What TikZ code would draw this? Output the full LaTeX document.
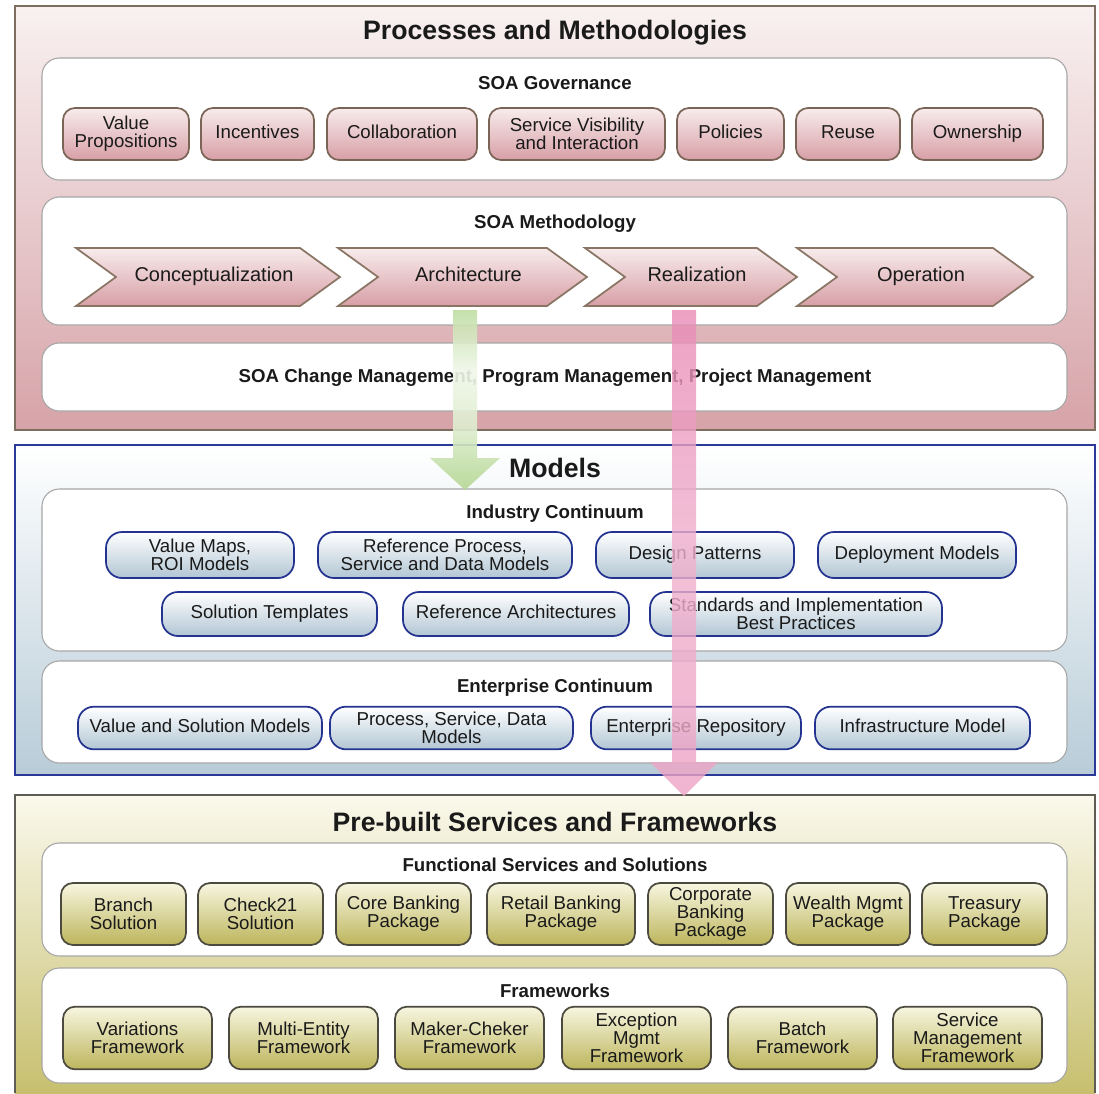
\documentclass[tikz,border=0pt]{standalone}
\usepackage{fontspec}
\setmainfont{Liberation Sans}
\begin{document}
\definecolor{ink}{HTML}{1A1A1A}
% outer panels
\definecolor{procTop}{HTML}{F9F1F1}
\definecolor{procBot}{HTML}{D6A3A8}
\definecolor{procEdge}{HTML}{7E6E60}
\definecolor{modTop}{HTML}{FFFFFF}
\definecolor{modBot}{HTML}{B8CCD8}
\definecolor{modEdge}{HTML}{2B3A98}
\definecolor{preTop}{HTML}{FAF9EC}
\definecolor{preBot}{HTML}{C7BF6E}
\definecolor{preEdge}{HTML}{5E5C54}
% boxes
\definecolor{pinkTop}{HTML}{F8ECEC}
\definecolor{pinkBot}{HTML}{D79FA6}
\definecolor{pinkEdge}{HTML}{7A6455}
\definecolor{blueTop}{HTML}{FFFFFF}
\definecolor{blueBot}{HTML}{B2C6D4}
\definecolor{blueEdge}{HTML}{23338F}
\definecolor{oliveTop}{HTML}{F7F6E0}
\definecolor{oliveBot}{HTML}{BDB55C}
\definecolor{oliveEdge}{HTML}{4C4A3E}
\definecolor{chevEdge}{HTML}{8A7565}
% arrows
\definecolor{arrGreen}{HTML}{9ECB72}
\definecolor{arrPink}{HTML}{DE5292}

\pgfdeclareverticalshading{greenfade}{100bp}{%
  color(0bp)=(arrGreen!90!white); color(20bp)=(arrGreen!90!white);
  color(42bp)=(arrGreen!35!white); color(58bp)=(arrGreen!15!white);
  color(82bp)=(arrGreen!85!white); color(100bp)=(arrGreen)}
\pgfdeclareverticalshading{pinkfade}{100bp}{%
  color(0bp)=(arrPink); color(8bp)=(arrPink!90!white);
  color(20bp)=(arrPink!55!white); color(50bp)=(arrPink!45!white);
  color(78bp)=(arrPink!70!white); color(100bp)=(arrPink)}

\newcommand\mybox[6]{%
  \node[#1, minimum width={(#4-#3)*0.75pt}] (#2) at ({(#3+#4)/2},#5) {#6};}
\newcommand\chevron[4]{%
  \shade[chevfill] (#2,248) -- ({#3-40},248) -- (#3,277) -- ({#3-40},306)
    -- (#2,306) -- ({#2+40},277) -- cycle;
  \node[chevtext] (#1) at ({(#2+#3)/2+6},277) {#4};}

\begin{tikzpicture}[x=0.75pt,y=-0.75pt,
  every node/.style={text=ink},
  bigtitle/.style={font=\fontsize{20}{22}\selectfont\bfseries},
  subtitle/.style={font=\fontsize{14}{16}\selectfont\bfseries},
  boxtext/.style={font=\fontsize{14}{13.4}\selectfont, align=center, inner sep=0pt},
  oneline/.style={text height=0.9em, text depth=0.2em},
  innerpanel/.style={fill=white, draw=black!35, line width=0.8pt, rounded corners=13pt},
  pinkbox/.style={boxtext, draw=pinkEdge, line width=1.3pt, rounded corners=9pt,
    top color=pinkTop, bottom color=pinkBot, minimum height=39pt},
  bluebox/.style={boxtext, draw=blueEdge, line width=1.3pt, rounded corners=12pt,
    top color=blueTop, bottom color=blueBot},
  olivebox/.style={boxtext, draw=oliveEdge, line width=1.3pt, rounded corners=9pt,
    top color=oliveTop, bottom color=oliveBot},
  chevfill/.style={draw=chevEdge, line width=1.3pt, top color=pinkTop, bottom color=pinkBot},
  chevtext/.style={font=\fontsize{15}{16}\selectfont, inner sep=0pt, text height=0.9em, text depth=0.2em},
]
\useasboundingbox (0,0) rectangle (1099,1093);
\fill[white] (0,0) rectangle (1099,1093);

% ---------- Processes and Methodologies ----------
\shade[top color=procTop, bottom color=procBot] (15,6) rectangle (1095,430);
\draw[procEdge, line width=1.6pt] (15,6) rectangle (1095,430);
\node[bigtitle] (proc) at (555,33) {Processes and Methodologies};

\draw[innerpanel] (42,58) rectangle (1067,180);
\node[subtitle] (gov) at (555,83) {SOA Governance};
\mybox{pinkbox}{vp}{63}{189}{134}{Value\\Propositions}
\mybox{pinkbox, oneline}{inc}{201}{314}{134}{Incentives}
\mybox{pinkbox, oneline}{col}{327}{477}{134}{Collaboration}
\mybox{pinkbox}{svi}{489}{665}{134}{Service Visibility\\and Interaction}
\mybox{pinkbox, oneline}{pol}{677}{784}{134}{Policies}
\mybox{pinkbox, oneline}{reu}{796}{900}{134}{Reuse}
\mybox{pinkbox, oneline}{own}{912}{1043}{134}{Ownership}

\draw[innerpanel] (42,197) rectangle (1067,325);
\node[subtitle] (meth) at (555,224) {SOA Methodology};
\chevron{concept}{76}{340}{Conceptualization}
\chevron{arch}{338}{587}{Architecture}
\chevron{real}{585}{797}{Realization}
\chevron{oper}{797}{1033}{Operation}

\draw[innerpanel] (42,343) rectangle (1067,411);
\node[subtitle] (chg) at (555,378) {SOA Change Management, Program Management, Project Management};

% ---------- Models ----------
\shade[top color=modTop, bottom color=modBot] (15,445) rectangle (1095,775);
\draw[modEdge, line width=1.6pt] (15,445) rectangle (1095,775);
\node[bigtitle] (models) at (555,468) {Models};

\draw[innerpanel] (42,489) rectangle (1067,651);
\node[subtitle] (ind) at (555,514) {Industry Continuum};
\mybox{bluebox, minimum height=34.5pt}{vm}{106}{294}{555}{Value Maps,\\ROI Models}
\mybox{bluebox, minimum height=34.5pt}{rp}{318}{572}{555}{Reference Process,\\Service and Data Models}
\mybox{bluebox, oneline, minimum height=34.5pt}{dp}{596}{794}{555}{Design Patterns}
\mybox{bluebox, oneline, minimum height=34.5pt}{dm}{818}{1016}{555}{Deployment Models}
\mybox{bluebox, oneline, minimum height=33pt}{st}{162}{377}{614}{Solution Templates}
\mybox{bluebox, oneline, minimum height=33pt}{ra}{403}{629}{614}{Reference Architectures}
\mybox{bluebox, minimum height=33pt}{sib}{650}{942}{614}{Standards and Implementation\\Best Practices}

\draw[innerpanel] (42,661) rectangle (1067,763);
\node[subtitle] (ent) at (555,688) {Enterprise Continuum};
\mybox{bluebox, oneline, minimum height=32pt}{vsm}{78}{322}{728}{Value and Solution Models}
\mybox{bluebox, minimum height=32pt}{psd}{330}{573}{728}{Process, Service, Data\\Models}
\mybox{bluebox, oneline, minimum height=32pt}{er}{591}{801}{728}{Enterprise Repository}
\mybox{bluebox, oneline, minimum height=32pt}{im}{815}{1030}{728}{Infrastructure Model}

% ---------- Pre-built Services and Frameworks ----------
\shade[top color=preTop, bottom color=preBot] (15,795) rectangle (1095,1093);
\draw[preEdge, line width=1.6pt] (15,1093) -- (15,795) -- (1095,795) -- (1095,1093);
\node[bigtitle] (pre) at (555,822) {Pre-built Services and Frameworks};

\draw[innerpanel] (42,843) rectangle (1067,956);
\node[subtitle] (fun) at (555,865) {Functional Services and Solutions};
\mybox{olivebox, minimum height=46.5pt}{bs}{61}{186}{914}{Branch\\Solution}
\mybox{olivebox, minimum height=46.5pt}{c21}{198}{323}{914}{Check21\\Solution}
\mybox{olivebox, minimum height=46.5pt}{cbp}{336}{471}{914}{Core Banking\\Package}
\mybox{olivebox, minimum height=46.5pt}{rbp}{487}{635}{914}{Retail Banking\\Package}
\mybox{olivebox, minimum height=46.5pt}{cobp}{648}{773}{914}{Corporate\\Banking\\Package}
\mybox{olivebox, minimum height=46.5pt}{wmp}{786}{910}{914}{Wealth Mgmt\\Package}
\mybox{olivebox, minimum height=46.5pt}{tp}{922}{1047}{914}{Treasury\\Package}

\draw[innerpanel] (42,968) rectangle (1067,1083);
\node[subtitle] (fw) at (555,991) {Frameworks};
\mybox{olivebox, minimum height=47pt}{vf}{63}{212}{1038}{Variations\\Framework}
\mybox{olivebox, minimum height=47pt}{mef}{229}{378}{1038}{Multi-Entity\\Framework}
\mybox{olivebox, minimum height=47pt}{mcf}{395}{544}{1038}{Maker-Cheker\\Framework}
\mybox{olivebox, minimum height=47pt}{emf}{562}{711}{1038}{Exception\\Mgmt\\Framework}
\mybox{olivebox, minimum height=47pt}{bf}{728}{877}{1038}{Batch\\Framework}
\mybox{olivebox, minimum height=47pt}{smf}{893}{1042}{1038}{Service\\Management\\Framework}

% ---------- flow arrows ----------
\shade[shading=greenfade, opacity=0.9]
  (453,310) -- (477,310) -- (477,458) -- (500,458) -- (465,490)
  -- (430,458) -- (453,458) -- cycle;
\shade[shading=pinkfade, opacity=0.8]
  (672,310) -- (696,310) -- (696,762) -- (718,762) -- (684,796)
  -- (650,762) -- (672,762) -- cycle;
\end{tikzpicture}
\end{document}
